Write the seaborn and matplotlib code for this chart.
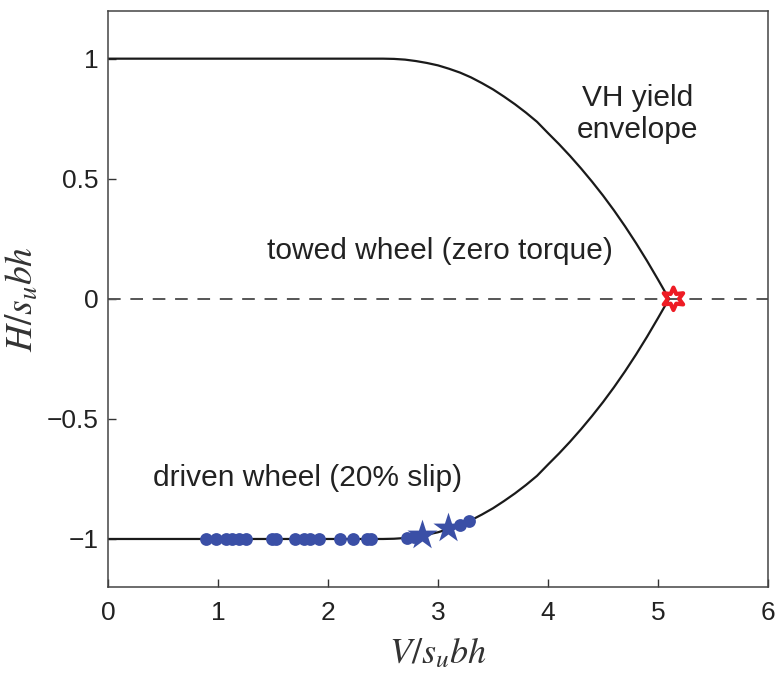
import numpy as np
import pandas as pd
import matplotlib
matplotlib.use("Agg")
import matplotlib.pyplot as plt
import seaborn as sns

# VH yield envelope (normalised vertical load V/s_u bh vs horizontal load H/s_u bh)
env_v = [0.0, 2.5, 2.6, 2.7, 2.8, 2.9, 3.0, 3.1, 3.2, 3.3, 3.4, 3.5, 3.6, 3.7, 3.8,
         3.9, 4.0, 4.1, 4.2, 4.3, 4.4, 4.5, 4.6, 4.7, 4.8, 4.9, 5.0, 5.1]
env_h_upper = [1.0, 1.0, 0.999, 0.996, 0.99, 0.982, 0.972, 0.958, 0.942, 0.922, 0.898,
               0.872, 0.842, 0.81, 0.775, 0.737, 0.69, 0.644, 0.595, 0.543, 0.488,
               0.43, 0.368, 0.302, 0.232, 0.158, 0.08, 0.0]
env_h_lower = [-1.0, -1.0, -0.999, -0.996, -0.99, -0.982, -0.972, -0.958, -0.942, -0.922,
               -0.898, -0.872, -0.842, -0.81, -0.775, -0.737, -0.69, -0.644, -0.595,
               -0.543, -0.488, -0.43, -0.368, -0.302, -0.232, -0.158, -0.08, 0.0]

# driven wheel (20% slip) results
driven_v = [0.89, 0.98, 1.07, 1.13, 1.19, 1.25, 1.49, 1.53, 1.70, 1.78, 1.84, 1.92,
            2.11, 2.23, 2.35, 2.39, 2.72, 2.78, 3.20, 3.28]
driven_h = [-1.0, -1.0, -1.0, -1.0, -1.0, -1.0, -1.0, -1.0, -1.0, -1.0, -1.0, -1.0,
            -1.0, -1.0, -1.0, -1.0, -0.996, -0.993, -0.94, -0.925]
driven_star_v = [2.85, 3.09]
driven_star_h = [-0.985, -0.955]

# towed wheel (zero torque) result
towed_v = [5.14]
towed_h = [0.0]

x_ticks = [0, 1, 2, 3, 4, 5, 6]
y_ticks = [-1, -0.5, 0, 0.5, 1]
y_tick_labels = ["\u22121", "\u22120.5", "0", "0.5", "1"]

sns.set_theme(style="white")
plt.rcParams["font.family"] = ["Liberation Sans", "DejaVu Sans"]
plt.rcParams["mathtext.fontset"] = "stix"

fig = plt.figure(figsize=(7.75, 6.86), dpi=100)
ax = fig.add_axes([0.1394, 0.1443, 0.8516, 0.8402])

# upper and lower branches of the envelope
for branch in (env_h_upper, env_h_lower):
    sns.lineplot(x=env_v, y=branch, estimator=None, sort=False,
                 color="#1a1a1a", lw=1.6, ax=ax)

ax.axhline(0, color="#555555", lw=1.4, ls=(0, (6.5, 5)), zorder=1)

blue = "#3a4fa6"
sns.scatterplot(x=driven_v, y=driven_h, s=85, color=blue, edgecolor=blue,
                linewidth=0, marker="o", ax=ax, zorder=3)
sns.scatterplot(x=driven_star_v, y=driven_star_h, s=520, color=blue, edgecolor=blue,
                linewidth=0, marker="*", ax=ax, zorder=3)
sns.scatterplot(x=towed_v, y=towed_h, s=260, facecolor="none", edgecolor="#ee1c25",
                linewidth=3.0, marker=(6, 1, 0), ax=ax, zorder=4)

ax.text(4.81, 0.77, "VH yield\nenvelope", fontsize=21.5, ha="center", va="center",
        color="#222222", linespacing=1.2)
ax.text(3.02, 0.2, "towed wheel (zero torque)", fontsize=21.5, ha="center",
        va="center", color="#222222")
ax.text(1.81, -0.745, "driven wheel (20% slip)", fontsize=21.5, ha="center",
        va="center", color="#222222")

ax.set_xlim(0, 6)
ax.set_ylim(-1.2, 1.2)
ax.set_xticks(x_ticks)
ax.set_yticks(y_ticks)
ax.set_yticklabels(y_tick_labels)
ax.tick_params(direction="in", length=6, width=1, colors="#333333",
               labelsize=19, labelcolor="#222222", bottom=True, left=True)
ax.tick_params(axis="y", pad=7)
ax.tick_params(axis="x", pad=10)
for s in ax.spines.values():
    s.set_color("#444444")
    s.set_linewidth(1.1)

ax.set_xlabel("$V/s_u bh$", fontsize=26, color="#333333", labelpad=8)
ax.set_ylabel("$H/s_u bh$", fontsize=27, color="#333333", labelpad=4)

fig.savefig("out.png", dpi=100)
